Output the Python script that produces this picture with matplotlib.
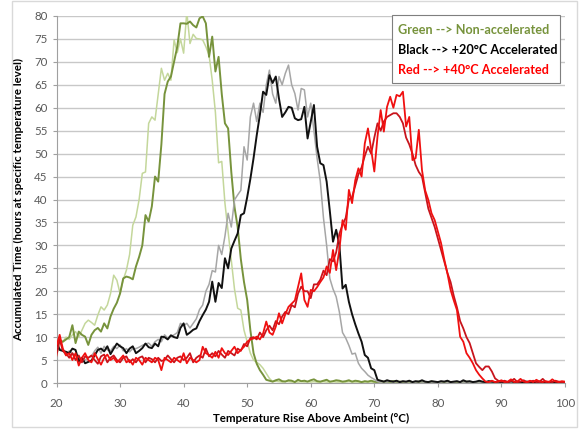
import numpy as np
import matplotlib
matplotlib.use('Agg')
import matplotlib.pyplot as plt
from matplotlib.patches import Rectangle

# temperature bins (deg C above ambient), 0.5 degree steps
temps = np.arange(20, 100.25, 0.5)

green_dark = [
    8.5, 9.3, 9.0, 9.5, 10.0, 12.6, 8.7, 11.2, 10.5, 10.1,
    8.3, 10.5, 11.5, 12.0, 11.2, 13.0, 11.9, 14.5, 16.2, 17.5,
    19.5, 22.8, 23.2, 23.0, 22.6, 25.4, 27.5, 30.0, 36.6, 35.2,
    38.5, 45.0, 43.9, 52.0, 63.0, 65.7, 66.8, 70.0, 73.3, 78.4,
    78.4, 78.3, 78.8, 78.0, 77.5, 79.5, 79.9, 78.4, 71.1, 75.5,
    67.9, 71.1, 63.0, 56.6, 55.5, 46.0, 38.4, 34.0, 27.0, 22.0,
    18.1, 11.5, 6.5, 4.2, 2.8, 1.8, 0.7, 0.5, 0.3, 0.6,
    0.8, 0.4, 0.3, 0.6, 0.5, 0.2, 0.7, 0.4, 0.5, 0.3,
    0.6, 0.8, 0.4, 0.3, 0.5, 0.7, 0.3, 0.4, 0.6, 0.5,
    0.3, 0.4, 0.6, 0.3, 0.5, 0.4, 0.2, 0.4, 0.3, 0.5,
    0.3, 0.2, 0.4, 0.3, 0.2, 0.3, 0.4, 0.2, 0.3, 0.2,
    0.2, 0.3, 0.2, 0.2, 0.3, 0.2, 0.1, 0.2, 0.3, 0.2,
    0.2, 0.1, 0.2, 0.3, 0.2, 0.2, 0.1, 0.2, 0.2, 0.3,
    0.2, 0.1, 0.2, 0.2, 0.1, 0.2, 0.3, 0.2, 0.1, 0.2,
    0.1, 0.2, 0.2, 0.1, 0.2, 0.1, 0.2, 0.1, 0.1, 0.2,
    0.1, 0.2, 0.1, 0.1, 0.2, 0.1, 0.1, 0.2, 0.1, 0.1,
    0.1]

green_light = [
    6.0, 8.6, 9.0, 10.0, 9.5, 10.5, 11.2, 10.0, 11.5, 13.0,
    13.7, 13.2, 12.6, 14.8, 16.6, 15.9, 17.0, 19.5, 23.5, 22.4,
    19.5, 22.5, 24.6, 28.0, 34.4, 36.2, 40.0, 45.7, 46.0, 56.6,
    58.0, 57.3, 63.0, 68.6, 66.0, 67.5, 66.0, 74.8, 72.0, 75.0,
    71.9, 80.9, 74.0, 76.0, 75.1, 75.0, 74.8, 73.3, 71.5, 66.0,
    59.0, 48.0, 48.3, 39.2, 33.0, 27.0, 20.5, 16.3, 15.9, 11.5,
    9.0, 6.5, 5.0, 4.5, 4.0, 3.2, 2.1, 1.0, 0.3, 0.4,
    0.3, 0.2, 0.4, 0.3, 0.2, 0.3, 0.2, 0.3, 0.2, 0.3,
    0.2, 0.3, 0.2, 0.2, 0.3, 0.2, 0.2, 0.3, 0.2, 0.2,
    0.2, 0.2, 0.3, 0.2, 0.2, 0.2, 0.1, 0.2, 0.2, 0.2,
    0.1, 0.2, 0.2, 0.1, 0.2, 0.1, 0.2, 0.1, 0.2, 0.1,
    0.1, 0.2, 0.1, 0.1, 0.2, 0.1, 0.1, 0.1, 0.2, 0.1,
    0.1, 0.1, 0.1, 0.2, 0.1, 0.1, 0.1, 0.1, 0.1, 0.1,
    0.1, 0.1, 0.1, 0.1, 0.1, 0.1, 0.1, 0.1, 0.1, 0.1,
    0.1, 0.1, 0.1, 0.1, 0.1, 0.1, 0.1, 0.1, 0.1, 0.1,
    0.1, 0.1, 0.1, 0.1, 0.1, 0.1, 0.1, 0.1, 0.1, 0.1,
    0.1]

black_20 = [
    9.0, 7.2, 7.0, 6.8, 6.5, 7.5, 7.2, 4.7, 5.5, 4.3,
    4.6, 4.9, 6.0, 7.2, 7.5, 6.9, 8.0, 6.3, 7.5, 8.6,
    8.0, 7.6, 6.5, 7.5, 8.0, 6.5, 7.0, 7.6, 8.6, 7.8,
    7.6, 8.6, 8.0, 10.1, 10.0, 9.5, 10.4, 10.0, 9.8, 12.0,
    13.0, 10.5, 11.0, 11.6, 11.9, 13.5, 14.8, 16.0, 17.7, 22.1,
    17.7, 21.8, 20.7, 27.2, 25.0, 29.3, 31.0, 32.6, 36.6, 37.0,
    40.5, 44.5, 49.0, 54.0, 58.5, 63.5, 62.8, 67.1, 65.4, 66.8,
    62.0, 58.0, 59.0, 60.2, 60.0, 57.7, 57.3, 57.5, 60.2, 53.3,
    57.0, 60.6, 51.5, 47.9, 47.5, 43.9, 37.5, 30.8, 33.4, 30.1,
    20.6, 21.4, 17.7, 15.0, 12.8, 10.8, 9.0, 6.1, 5.5, 3.2,
    2.8, 0.7, 0.5, 0.3, 0.6, 0.4, 0.3, 0.5, 0.2, 0.4,
    0.3, 0.5, 0.2, 0.4, 0.3, 0.6, 0.3, 0.2, 0.4, 0.3,
    0.2, 0.4, 0.3, 0.5, 0.2, 0.3, 0.4, 0.2, 0.6, 0.3,
    0.4, 0.2, 0.3, 0.5, 0.3, 0.2, 0.4, 0.3, 0.2, 0.3,
    0.2, 0.3, 0.2, 0.4, 0.2, 0.3, 0.2, 0.2, 0.3, 0.2,
    0.2, 0.2, 0.3, 0.2, 0.2, 0.1, 0.2, 0.2, 0.1, 0.2,
    0.1]

gray_20 = [
    8.0, 7.5, 7.0, 6.0, 7.0, 6.5, 6.0, 5.5, 5.0, 5.0,
    5.5, 5.8, 7.0, 7.8, 6.5, 8.0, 7.2, 7.0, 8.0, 7.5,
    8.3, 7.0, 7.5, 6.8, 7.5, 7.5, 7.8, 8.2, 8.5, 8.7,
    8.0, 9.0, 9.5, 9.0, 10.5, 9.8, 10.2, 10.5, 11.0, 13.0,
    12.5, 13.0, 12.0, 13.0, 14.0, 16.0, 17.0, 20.0, 21.5, 24.5,
    24.2, 30.0, 28.0, 32.0, 37.0, 34.0, 39.9, 41.0, 42.0, 51.5,
    48.6, 58.0, 61.0, 57.0, 61.0, 59.0, 65.0, 68.2, 63.0, 61.0,
    66.8, 65.0, 67.5, 69.3, 65.0, 63.1, 59.5, 64.2, 63.9, 58.0,
    61.0, 55.0, 49.0, 44.0, 36.0, 30.0, 22.8, 20.5, 18.8, 15.5,
    11.0, 9.8, 8.2, 6.3, 6.5, 4.3, 3.2, 2.5, 1.7, 1.2,
    0.8, 0.3, 0.2, 0.3, 0.2, 0.4, 0.2, 0.3, 0.2, 0.3,
    0.2, 0.3, 0.2, 0.2, 0.3, 0.2, 0.2, 0.3, 0.2, 0.2,
    0.2, 0.2, 0.3, 0.2, 0.2, 0.2, 0.3, 0.2, 0.2, 0.2,
    0.2, 0.2, 0.2, 0.2, 0.2, 0.2, 0.2, 0.2, 0.2, 0.2,
    0.1, 0.2, 0.1, 0.2, 0.1, 0.2, 0.1, 0.2, 0.1, 0.1,
    0.1, 0.1, 0.1, 0.1, 0.1, 0.1, 0.1, 0.1, 0.1, 0.1,
    0.1]

red_40a = [
    8.0, 10.5, 7.5, 6.0, 6.5, 5.0, 6.5, 3.8, 5.5, 6.5,
    5.0, 4.5, 6.5, 5.2, 4.0, 5.5, 6.2, 5.0, 5.5, 4.5,
    5.2, 6.0, 4.5, 5.0, 4.0, 5.5, 5.0, 4.0, 5.5, 5.0,
    4.5, 5.5, 5.0, 2.8, 5.5, 5.0, 4.5, 5.5, 5.0, 4.5,
    6.5, 4.3, 5.5, 5.0, 4.5, 5.0, 7.9, 6.5, 6.1, 5.5,
    6.8, 5.5, 7.6, 6.5, 6.1, 7.0, 7.9, 6.5, 7.2, 7.9,
    9.0, 9.5, 9.7, 10.1, 9.5, 10.8, 13.4, 11.0, 10.5, 12.3,
    15.2, 13.0, 15.0, 16.6, 17.3, 18.0, 21.0, 23.9, 18.1, 16.6,
    20.3, 20.0, 20.9, 22.0, 23.0, 25.4, 24.0, 29.0, 24.6, 29.0,
    35.5, 33.4, 42.1, 39.2, 44.2, 46.8, 45.0, 52.2, 55.5, 51.0,
    46.1, 53.7, 59.5, 54.8, 60.2, 62.4, 60.0, 62.8, 62.5, 63.5,
    55.9, 58.0, 48.6, 49.0, 55.2, 46.4, 42.0, 39.9, 37.0, 35.5,
    33.0, 30.5, 27.0, 23.9, 20.3, 18.0, 15.9, 10.1, 9.0, 6.5,
    5.5, 4.3, 2.8, 1.8, 1.0, 0.3, 0.2, 0.5, 0.2, 0.3,
    0.6, 0.2, 0.3, 0.8, 0.2, 0.3, 0.9, 0.3, 0.2, 0.5,
    0.2, 0.7, 0.3, 0.2, 0.4, 0.2, 0.8, 0.3, 0.2, 0.4,
    0.3]

red_40b = [
    6.0, 9.5, 7.0, 6.5, 5.5, 6.5, 5.0, 6.0, 4.5, 5.8,
    5.5, 6.0, 5.0, 4.2, 5.8, 6.2, 4.5, 5.5, 6.0, 5.0,
    4.5, 5.5, 5.8, 4.5, 5.2, 4.5, 5.5, 5.8, 4.5, 5.5,
    5.2, 4.5, 5.5, 4.8, 5.0, 6.0, 5.2, 4.5, 5.5, 5.8,
    5.0, 5.5, 6.5, 4.5, 5.5, 6.0, 5.5, 7.5, 5.8, 6.5,
    5.8, 7.0, 6.2, 5.5, 7.0, 6.5, 6.0, 7.5, 7.0, 8.5,
    8.0, 9.8, 10.0, 9.5, 11.0, 10.0, 11.5, 12.5, 11.5, 13.5,
    12.8, 14.5, 15.5, 15.0, 17.0, 16.5, 19.5, 21.0, 20.0, 20.0,
    18.5, 21.5, 21.5, 22.5, 24.5, 23.5, 27.0, 26.5, 28.5, 32.5,
    34.5, 36.0, 40.0, 40.5, 43.0, 45.5, 47.0, 49.5, 51.5, 50.0,
    53.5, 56.6, 55.0, 57.0, 58.0, 58.4, 58.8, 58.8, 58.0, 56.6,
    53.5, 52.0, 50.0, 47.5, 46.0, 45.0, 41.5, 38.0, 36.0, 34.0,
    31.5, 29.0, 26.5, 24.0, 22.0, 19.0, 16.5, 13.5, 11.9, 10.0,
    8.7, 6.5, 4.3, 3.5, 2.8, 3.6, 3.6, 2.5, 1.0, 0.5,
    0.3, 0.5, 0.2, 0.4, 0.9, 0.2, 0.3, 0.6, 0.2, 0.3,
    0.5, 0.2, 0.3, 0.9, 0.2, 0.3, 0.2, 0.5, 0.3, 0.2,
    0.2]

x_ticks = [20, 30, 40, 50, 60, 70, 80, 90, 100]
y_ticks = list(range(0, 85, 5))

W, H = 581, 429
fig = plt.figure(figsize=(W / 100, H / 100), dpi=100)
plt.rcParams['font.family'] = ['Lato', 'DejaVu Sans']

ax = fig.add_axes([56.5 / W, 1 - 383 / H, 508.5 / W, 367 / H])

ax.plot(temps, green_light, color='#c4d79b', lw=1.1, zorder=3)
ax.plot(temps, green_dark, color='#77933c', lw=1.4, zorder=3)
ax.plot(temps, gray_20, color='#a6a6a6', lw=1.1, zorder=4)
ax.plot(temps, black_20, color='#111111', lw=1.4, zorder=4)
ax.plot(temps, red_40b, color='#c8141c', lw=1.3, zorder=5)
ax.plot(temps, red_40a, color='#f01010', lw=1.3, zorder=5)

ax.set_xlim(20, 100)
ax.set_ylim(0, 80)
ax.set_xticks(x_ticks)
ax.set_yticks(y_ticks)
ax.grid(axis='y', color='#c8c8c8', lw=1.0, zorder=0)
ax.set_axisbelow(True)
for s in ['top', 'right']:
    ax.spines[s].set_visible(False)
for s in ['left', 'bottom']:
    ax.spines[s].set_color('#a0a0a0')
    ax.spines[s].set_linewidth(0.8)
ax.tick_params(colors='#a0a0a0', labelcolor='#595959', labelsize=8.3, length=3, width=0.8)
ax.tick_params(axis='x', pad=8)

ax.set_xlabel('Temperature Rise Above Ambeint (°C)', fontsize=8.3, fontweight='bold', labelpad=3)
ax.set_ylabel('Accumulated Time (hours at specific temperature level)', fontsize=8.3,
              fontweight='bold', labelpad=7)

# text box naming the colours
box = Rectangle((392 / W, 1 - 82.5 / H), 168 / W, 67 / H, transform=fig.transFigure,
                facecolor='white', edgecolor='#7f7f7f', lw=0.8, zorder=10)
fig.patches.append(box)
notes = [('Green --> Non-accelerated', '#77933c', 30.5),
         ('Black --> +20°C Accelerated', '#000000', 50),
         ('Red --> +40°C Accelerated', '#ff0000', 69.5)]
for txt, col, py in notes:
    fig.text(398 / W, 1 - py / H, txt, color=col, fontsize=9.1, fontweight='bold',
             va='center', ha='left', zorder=11)

# light frame around the whole chart
frame = Rectangle((12 / W, 1 - 427 / H), 565 / W, 426 / H, transform=fig.transFigure,
                  facecolor='none', edgecolor='#d9d9d9', lw=1.0)
fig.patches.append(frame)

fig.savefig('out.png', dpi=100)
